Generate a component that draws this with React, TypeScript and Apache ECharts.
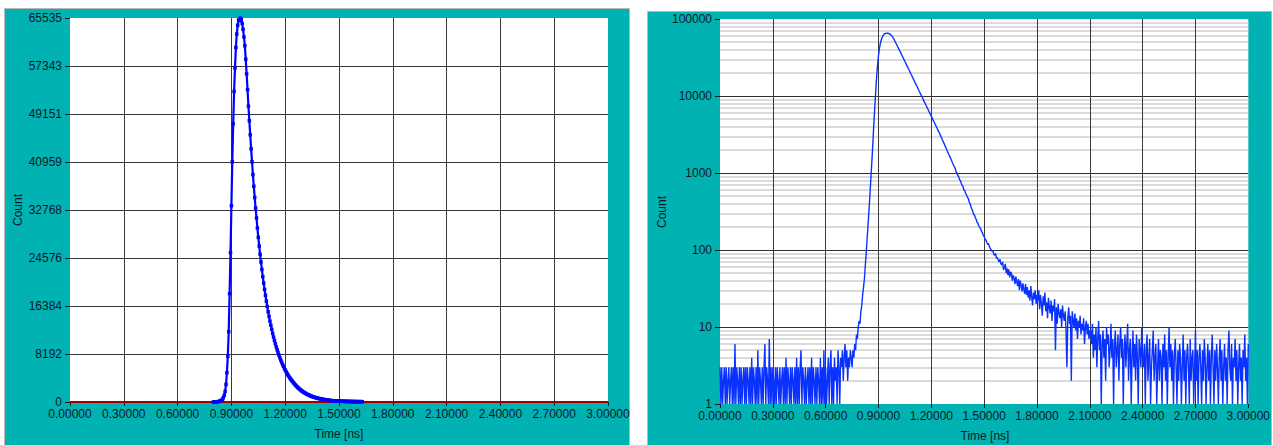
import React, { useEffect, useRef } from "react";
import * as echarts from "echarts";

// Bin width of the histogram (ns)
const STEP = 0.005;

// Counts, 0.000 .. 0.745 ns (dark-count baseline)
const baselineCounts = [
  3, 1, 3, 1, 2, 3, 1, 3, 1, 2, 3, 1, 2, 3, 1, 3, 1, 6, 1, 3,
  2, 1, 3, 1, 3, 1, 2, 3, 1, 3, 1, 3, 2, 1, 3, 1, 4, 1, 3, 2,
  1, 3, 1, 5, 1, 3, 2, 1, 3, 1, 3, 6, 1, 3, 2, 1, 7, 1, 3, 1,
  3, 2, 1, 3, 1, 3, 2, 1, 3, 1, 2, 3, 1, 3, 1, 4, 1, 3, 2, 1,
  3, 1, 3, 2, 1, 3, 1, 4, 1, 3, 1, 3, 5, 1, 3, 2, 1, 3, 1, 2,
  3, 1, 3, 1, 4, 1, 3, 2, 1, 3, 1, 3, 2, 1, 4, 1, 3, 1, 5, 1,
  3, 1, 2, 4, 1, 3, 5, 1, 3, 1, 4, 2, 3, 1, 5, 3, 1, 4, 3, 5,
  2, 4, 6, 3, 5, 2, 4, 3, 5, 4,
];

// Counts, 0.750 .. 0.950 ns (rising edge)
const riseCounts = [
  3, 5, 4, 6, 5, 8, 7, 10, 12, 11, 16, 19, 26, 33, 42, 62, 90, 135, 200, 300,
  460, 720, 1150, 1800, 3000, 5000, 7800, 12000, 18500, 25500, 33500, 41000,
  47500, 53000, 57000, 60500, 62800, 64300, 65200, 65100, 65535,
];

// Counts, 0.955 .. 1.400 ns (main decay)
const decayCounts = [
  65300, 64600, 63600, 62300, 60800, 58500, 56000, 53300, 50500, 48000,
  45600, 43200, 41000,
  38800, 36800, 34900, 33100, 31400, 29700, 28100, 26600, 25200, 23900,
  22600, 21400, 20300, 19200, 18200, 17200, 16300, 15400, 14600, 13800,
  13100, 12400, 11700, 11100, 10500, 9950, 9420, 8920, 8450, 8000,
  7570, 7170, 6790, 6430, 6090, 5760, 5460, 5170, 4890, 4630,
  4390, 4150, 3930, 3720, 3530, 3340,
  3150, 2970, 2800, 2630, 2480, 2340, 2200, 2070, 1950, 1840,
  1730, 1630, 1540, 1450, 1360, 1280, 1210, 1160, 1040, 1010,
  930, 905, 820, 800, 735, 690, 670, 600, 590, 540, 520,
];

// Counts, 1.405 .. 1.600 ns
const tailCountsA = [
  480, 470, 420, 400, 365, 340, 320, 290, 285, 262,
  250, 228, 222, 205, 196, 188, 175, 168, 155, 150,
  138, 135, 126, 118, 122, 110, 104, 100, 96, 99,
  88, 85, 90, 78, 80, 74, 70, 76, 66, 64,
];

// Counts, 1.605 .. 1.800 ns
const tailCountsB = [
  70, 55, 60, 66, 50, 58, 47, 56, 44, 52, 50, 40, 47, 43, 36, 45, 39, 34, 42, 30,
  40, 35, 29, 37, 31, 27, 36, 26, 33, 24, 30, 22, 34, 25, 19, 28, 23, 30, 20, 26,
];

// Counts, 1.805 .. 2.100 ns
const tailCountsC = [
  22, 30, 17, 26, 20, 14, 25, 19, 28, 16, 21, 13, 24, 18, 15, 22, 12, 19, 16, 23,
  5, 18, 11, 20, 15, 13, 17, 10, 19, 14, 12, 16, 9, 3, 13, 18, 11, 14, 2, 16,
  12, 10, 15, 9, 13, 7, 12, 10, 14, 8, 11, 9, 13, 6, 10, 12, 8, 11, 7, 9,
];

// Counts, 2.105 .. 2.400 ns
const tailCountsD = [
  9, 6, 11, 4, 8, 5, 10, 3, 7, 12, 5, 8, 1, 6, 9, 4, 7, 2, 10, 6,
  8, 3, 5, 11, 4, 7, 1, 6, 9, 3, 5, 8, 2, 6, 10, 4, 7, 1, 5, 8,
  3, 6, 11, 2, 5, 7, 1, 4, 9, 3, 6, 2, 8, 4, 1, 7, 5, 3, 10, 4,
];

// Counts, 2.405 .. 3.000 ns
const tailCountsE = [
  3, 6, 1, 5, 8, 2, 4, 7, 1, 3, 5, 9, 2, 4, 6, 1, 3, 7, 2, 5,
  4, 1, 6, 3, 8, 2, 5, 1, 4, 10, 3, 6, 2, 5, 1, 4, 7, 3, 1, 5,
  2, 6, 4, 1, 3, 8, 2, 5, 1, 4, 6, 3, 1, 7, 2, 4, 5, 1, 3, 9,
  2, 5, 1, 4, 6, 3, 1, 5, 2, 7, 4, 1, 3, 6, 2, 5, 1, 4, 8, 3,
  1, 5, 2, 6, 3, 1, 4, 7, 2, 5, 1, 3, 6, 2, 4, 1, 5, 9, 3, 2,
  6, 1, 4, 3, 7, 2, 5, 1, 3, 6, 2, 4, 1, 5, 3, 8, 2, 4, 1, 6,
];

// Axis ticks
const timeTicks = [0.3, 0.6, 0.9, 1.2, 1.5, 1.8, 2.1, 2.4, 2.7];
const linearMax = 65535;
const linearDivisions = 8;
const logDecades = [1, 10, 100, 1000, 10000];
const logMinorSteps = [2, 3, 4, 5, 6, 7, 8, 9];
const baselineValue = 0;

const allCounts = [
  ...baselineCounts,
  ...riseCounts,
  ...decayCounts,
  ...tailCountsA,
  ...tailCountsB,
  ...tailCountsC,
  ...tailCountsD,
  ...tailCountsE,
];
const points = allCounts.map((c, i) => [Number((i * STEP).toFixed(3)), c]);
const leftPoints = points.filter((p) => p[0] >= 0.8 && p[0] <= 1.63);

const TEXT = "#0c1826";
const FONT = "'Liberation Sans', Arial, sans-serif";
const TEAL = "#00b2b2";

export default function App() {
  const ref = useRef<HTMLDivElement>(null);

  useEffect(() => {
    if (!ref.current) return;
    const chart = echarts.init(ref.current, undefined, { renderer: "svg" });

    const xAxisBase = (gridIndex: number) => ({
      type: "value",
      gridIndex,
      min: 0,
      max: 3,
      interval: 0.3,
      axisLine: { show: false },
      axisTick: { show: true, length: 4, lineStyle: { color: TEXT } },
      axisLabel: {
        color: TEXT,
        fontFamily: FONT,
        fontSize: 12,
        margin: 6,
        formatter: (v: number) => v.toFixed(5),
      },
      splitLine: { show: false },
    });

    const minorLines = logDecades.flatMap((d) =>
      logMinorSteps.map((m) => ({
        yAxis: d * m,
        lineStyle: { color: "#cfcfcf", width: 1.5, type: "solid" },
      }))
    );
    const verticalLinesRight = timeTicks.map((t) => ({
      xAxis: t,
      lineStyle: { color: "#3a3a3a", width: 1, type: "solid" },
    }));
    const verticalLinesLeft = timeTicks.map((t) => ({
      xAxis: t,
      lineStyle: { color: "#3a3a3a", width: 1, type: "solid" },
    }));

    const textEl = (x: number, y: number, text: string, rotate: boolean) => ({
      type: "text",
      z: 10,
      x,
      y,
      rotation: rotate ? Math.PI / 2 : 0,
      style: {
        text,
        fill: TEXT,
        font: `12px ${FONT}`,
        align: "center",
        verticalAlign: "middle",
      },
    });

    chart.setOption({
      animation: false,
      graphic: [
        {
          type: "rect",
          z: -10,
          shape: { x: 4.5, y: 8.5, width: 625, height: 440 },
          style: { fill: TEAL, stroke: "#b8b8b8", lineWidth: 1 },
        },
        {
          type: "rect",
          z: -10,
          shape: { x: 647.5, y: 11.5, width: 624, height: 440 },
          style: { fill: TEAL, stroke: "#b8b8b8", lineWidth: 1 },
        },
        textEl(18, 210, "Count", true),
        textEl(662, 212, "Count", true),
        textEl(339, 434, "Time [ns]", false),
        textEl(985, 436, "Time [ns]", false),
      ],
      grid: [
        {
          left: 70,
          top: 18,
          width: 538,
          height: 384,
          show: true,
          backgroundColor: "#ffffff",
          borderWidth: 0,
          containLabel: false,
        },
        {
          left: 720,
          top: 19,
          width: 531,
          height: 385,
          show: true,
          backgroundColor: "#ffffff",
          borderWidth: 0,
          containLabel: false,
        },
      ],
      xAxis: [xAxisBase(0), xAxisBase(1)],
      yAxis: [
        {
          type: "value",
          gridIndex: 0,
          min: 0,
          max: linearMax,
          interval: linearMax / linearDivisions,
          axisLine: { show: false },
          axisTick: { show: true, length: 5, lineStyle: { color: TEXT } },
          axisLabel: {
            color: TEXT,
            fontFamily: FONT,
            fontSize: 12,
            margin: 8,
            formatter: (v: number) => String(Math.round(v)),
          },
          splitLine: {
            show: true,
            showMinLine: false,
            showMaxLine: false,
            lineStyle: { color: "#3a3a3a", width: 1 },
          },
        },
        {
          type: "log",
          gridIndex: 1,
          logBase: 10,
          min: 1,
          max: 100000,
          axisLine: { show: false },
          axisTick: { show: true, length: 5, lineStyle: { color: TEXT } },
          axisLabel: {
            color: TEXT,
            fontFamily: FONT,
            fontSize: 12,
            margin: 8,
            formatter: (v: number) => String(Math.round(v)),
          },
          splitLine: {
            show: true,
            showMinLine: false,
            showMaxLine: false,
            lineStyle: { color: "#303030", width: 1 },
          },
        },
      ],
      series: [
        {
          type: "line",
          xAxisIndex: 0,
          yAxisIndex: 0,
          data: [],
          silent: true,
          z: 1,
          markLine: {
            silent: true,
            symbol: "none",
            label: { show: false },
            z: 1,
            animation: false,
            data: verticalLinesLeft,
          },
        },
        {
          type: "line",
          xAxisIndex: 0,
          yAxisIndex: 0,
          data: [
            [0, baselineValue],
            [3, baselineValue],
          ],
          symbol: "none",
          clip: false,
          silent: true,
          z: 6,
          lineStyle: { color: "#a00000", width: 2 },
        },
        {
          type: "line",
          xAxisIndex: 0,
          yAxisIndex: 0,
          data: leftPoints,
          symbol: "rect",
          symbolSize: 3.5,
          showSymbol: true,
          showAllSymbol: true,
          silent: true,
          z: 10,
          itemStyle: { color: "#0000ff" },
          lineStyle: { color: "#0000ff", width: 2.2 },
        },
        {
          type: "line",
          xAxisIndex: 1,
          yAxisIndex: 1,
          data: [],
          silent: true,
          z: 1,
          markLine: {
            silent: true,
            symbol: "none",
            label: { show: false },
            z: 1,
            animation: false,
            data: [...minorLines, ...verticalLinesRight],
          },
        },
        {
          type: "line",
          xAxisIndex: 1,
          yAxisIndex: 1,
          data: points,
          symbol: "none",
          silent: true,
          z: 10,
          lineStyle: { color: "#0a32ff", width: 1.4 },
        },
      ],
    });

    return () => chart.dispose();
  }, []);

  return (
    <div
      ref={ref}
      style={{
        position: "absolute",
        left: 0,
        top: 0,
        width: 1273,
        height: 445,
        background: "#ffffff",
      }}
    />
  );
}
